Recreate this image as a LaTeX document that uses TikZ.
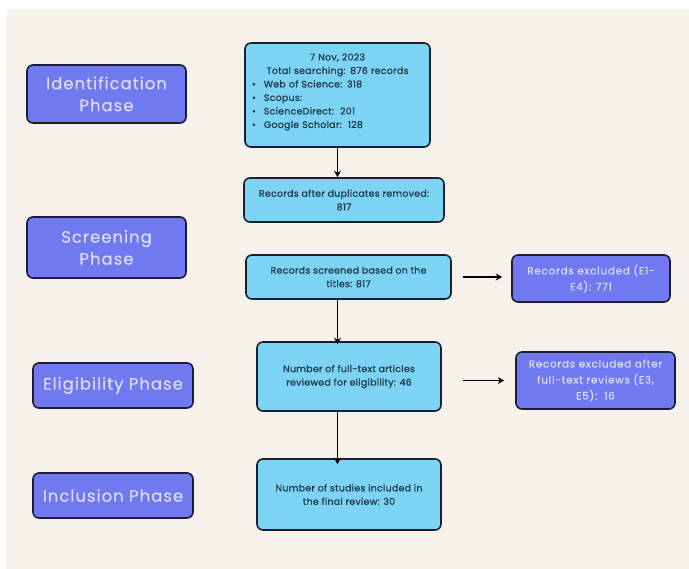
\documentclass[tikz,border=0pt]{standalone}
\usepackage{fontspec}
\setmainfont{Poppins}
\newfontfamily\boxfont[LetterSpace=3,FakeBold=1.2]{Poppins}
\newfontfamily\phasefont[LetterSpace=6,FakeBold=0.4]{Poppins}
\newfontfamily\exclfont[LetterSpace=7,FakeBold=0.4]{Poppins}
\usetikzlibrary{arrows.meta}
\definecolor{paper}{HTML}{F6F1EA}
\definecolor{skyfill}{HTML}{7DD3F3}
\definecolor{violetfill}{HTML}{7079EF}
\definecolor{boxline}{HTML}{1B1E30}
\definecolor{boxink}{HTML}{213F50}
\definecolor{paleink}{HTML}{DADCF4}

\begin{document}
\begin{tikzpicture}[x=1pt,y=-1pt]
	\useasboundingbox (0,0) rectangle (689,569);
	\fill[paper] (7,9) rectangle (689,569);
	\tikzstyle{PhaseStyle}=[draw=boxline,line width=1.6pt,rounded corners=6pt,fill=violetfill,text=paleink,align=center,inner sep=0pt,font=\phasefont\fontsize{16.5}{22}\selectfont]
	\tikzstyle{BoxStyle}=[draw=boxline,line width=1.6pt,rounded corners=6pt,fill=skyfill,text=boxink,align=center,inner sep=0pt,font=\boxfont\fontsize{9.4}{13.5}\selectfont]
	\tikzstyle{ExcludeStyle}=[BoxStyle,fill=violetfill,text=paleink,font=\exclfont\fontsize{10.4}{16}\selectfont]
	\tikzstyle{ArrowStyle}=[line width=1.7pt,-{Stealth[length=6.5pt,width=7pt]}]
	% phases
	\node[PhaseStyle,minimum width=159pt,minimum height=58pt] (ident) at (106.5,94) {Identification\\Phase};
	\node[PhaseStyle,minimum width=159pt,minimum height=61pt] (screen) at (106.5,247.5) {Screening\\Phase};
	\node[PhaseStyle,minimum width=160pt,minimum height=45pt] (elig) at (113,385.5) {Eligibility Phase};
	\node[PhaseStyle,minimum width=160pt,minimum height=45pt] (incl) at (113,495.5) {Inclusion Phase};
	% flow
	\node[BoxStyle,minimum width=185pt,minimum height=104pt,text width=175pt,align=left] (search) at (337.5,95) {\centering 7 Nov, 2023\\Total searching: 876 records\par\raggedright
		\hspace{2pt}\textbullet\hspace{8pt}Web of Science: 318\\
		\hspace{2pt}\textbullet\hspace{8pt}Scopus:\\
		\hspace{2pt}\textbullet\hspace{8pt}ScienceDirect:\ \ 201\\
		\hspace{2pt}\textbullet\hspace{8pt}Google Scholar:\ \ 128\par\vspace{6pt}};
	\node[BoxStyle,minimum width=200pt,minimum height=44pt] (dupl) at (344,200) {Records after duplicates removed:\\817};
	\node[BoxStyle,minimum width=205pt,minimum height=44pt] (titles) at (348.5,277) {Records screened based on the\\titles: 817};
	\node[BoxStyle,minimum width=184pt,minimum height=69pt] (fulltext) at (349,376.5) {Number of full-text articles\\reviewed for eligibility: 46};
	\node[BoxStyle,minimum width=184pt,minimum height=71pt] (final) at (349,494.5) {Number of studies included in\\the final review: 30};
	\node[ExcludeStyle,minimum width=158pt,minimum height=47pt] (excl1) at (591,278.5) {Records excluded (E1-\\E4): 771};
	\node[ExcludeStyle,minimum width=159pt,minimum height=57pt] (excl2) at (595.5,380.5) {Records excluded after\\full-text reviews (E3,\\E5):\ \ 16};
	% arrows
	\draw[ArrowStyle] (search.south) -- (search.south |- dupl.north);
	\draw[ArrowStyle] (search.south |- titles.south) -- ([yshift=-3pt]search.south |- fulltext.north);
	\draw[ArrowStyle] (search.south |- fulltext.south) -- ([yshift=-6pt]search.south |- final.north);
	\draw[ArrowStyle] ([xshift=11pt]titles.east) -- ([xshift=-9pt]titles.east -| excl1.west);
	\draw[ArrowStyle] ([xshift=21pt]fulltext.east |- excl2.west) -- ([xshift=-11pt]excl2.west);
\end{tikzpicture}
\end{document}
